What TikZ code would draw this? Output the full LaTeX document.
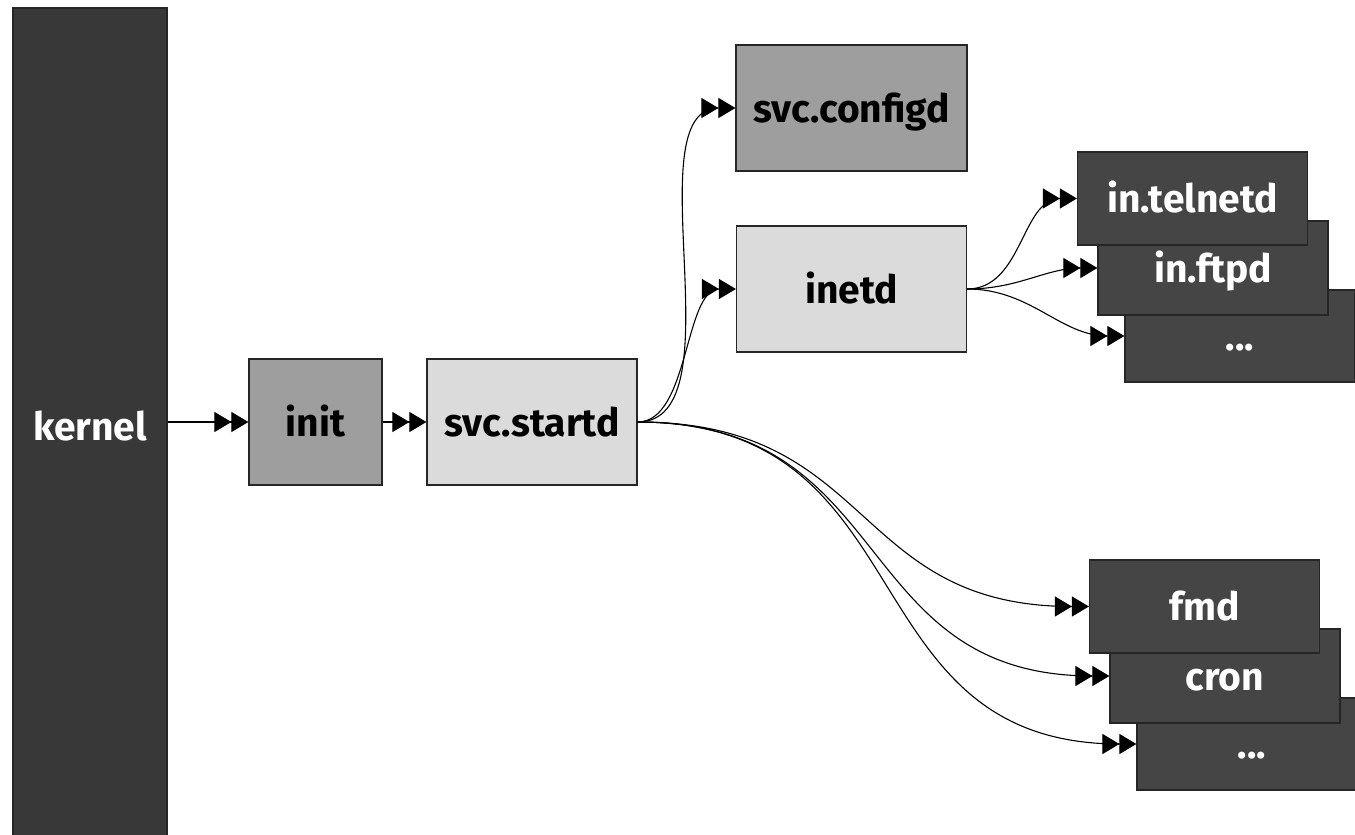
\documentclass[tikz,border=0pt]{standalone}
\usepackage{fontspec}
\setmainfont{Fira Sans}
\usetikzlibrary{arrows.meta}

\begin{document}
\begin{tikzpicture}[x=1pt, y=-1pt, >={Triangle[length=17pt,width=20pt]},
    blocco/.style={draw=black!85, line width=1.2pt, rectangle, inner sep=0pt,
        text height=30pt, text depth=2pt,
        font=\fontsize{39}{48}\selectfont\bfseries},
    scuro/.style={blocco, fill=black!73, text=white, minimum width=230pt},
    medio/.style={blocco, fill=black!38, text=black, minimum height=126pt},
    chiaro/.style={blocco, fill=black!14, text=black, minimum height=126pt},
    freccia/.style={->>, line width=1.1pt}]
        % Area della figura
        \useasboundingbox (0,0) rectangle (1355,835);

        % Kernel (colonna a sinistra)
        \node[blocco, fill=black!78, text=white, minimum width=154pt,
            minimum height=836pt] (kernel) at (90,426) {kernel};

        % Catena principale
        \node[medio, minimum width=133pt] (init) at (315.5,422) {init};
        \node[chiaro, minimum width=210pt] (startd) at (532,422) {svc.startd};

        % Servizi avviati da svc.startd
        \node[medio, minimum width=231pt] (configd) at (851.5,108) {svc.configd};
        \node[chiaro, minimum width=230pt] (inetd) at (851.5,289) {inetd};

        % Figli di inetd (dal fondo verso l'alto)
        \node[scuro, minimum height=92pt] (altri1) at (1240,336) {...};
        \node[scuro, minimum height=94pt] (ftpd) at (1213,268) {in.ftpd};
        \node[scuro, minimum height=93pt] (telnetd) at (1192.5,198.5) {in.telnetd};

        % Altri servizi
        \node[scuro, minimum height=92pt] (altri2) at (1252,744) {...};
        \node[scuro, minimum height=94pt] (cron) at (1225,676) {cron};
        \node[scuro, minimum height=93pt] (fmd) at (1204.5,606.5) {fmd};

        % Frecce dirette
        \draw[freccia] (kernel.east |- init.west) -- (init.west);
        \draw[freccia] (init.east) -- (startd.west);

        % Curve da svc.startd
        \foreach \n in {configd,inetd} {
            \draw[freccia] (startd.east) to[out=0,in=180,looseness=0.8] (\n.west);
        }
        \foreach \n in {fmd,cron,altri2} {
            \draw[freccia] (startd.east) to[out=0,in=180,looseness=1.25] (\n.west);
        }

        % Curve da inetd
        \foreach \n in {telnetd,ftpd,altri1} {
            \draw[freccia] (inetd.east) to[out=0,in=180] (\n.west);
        }

    \end{tikzpicture}
\end{document}
